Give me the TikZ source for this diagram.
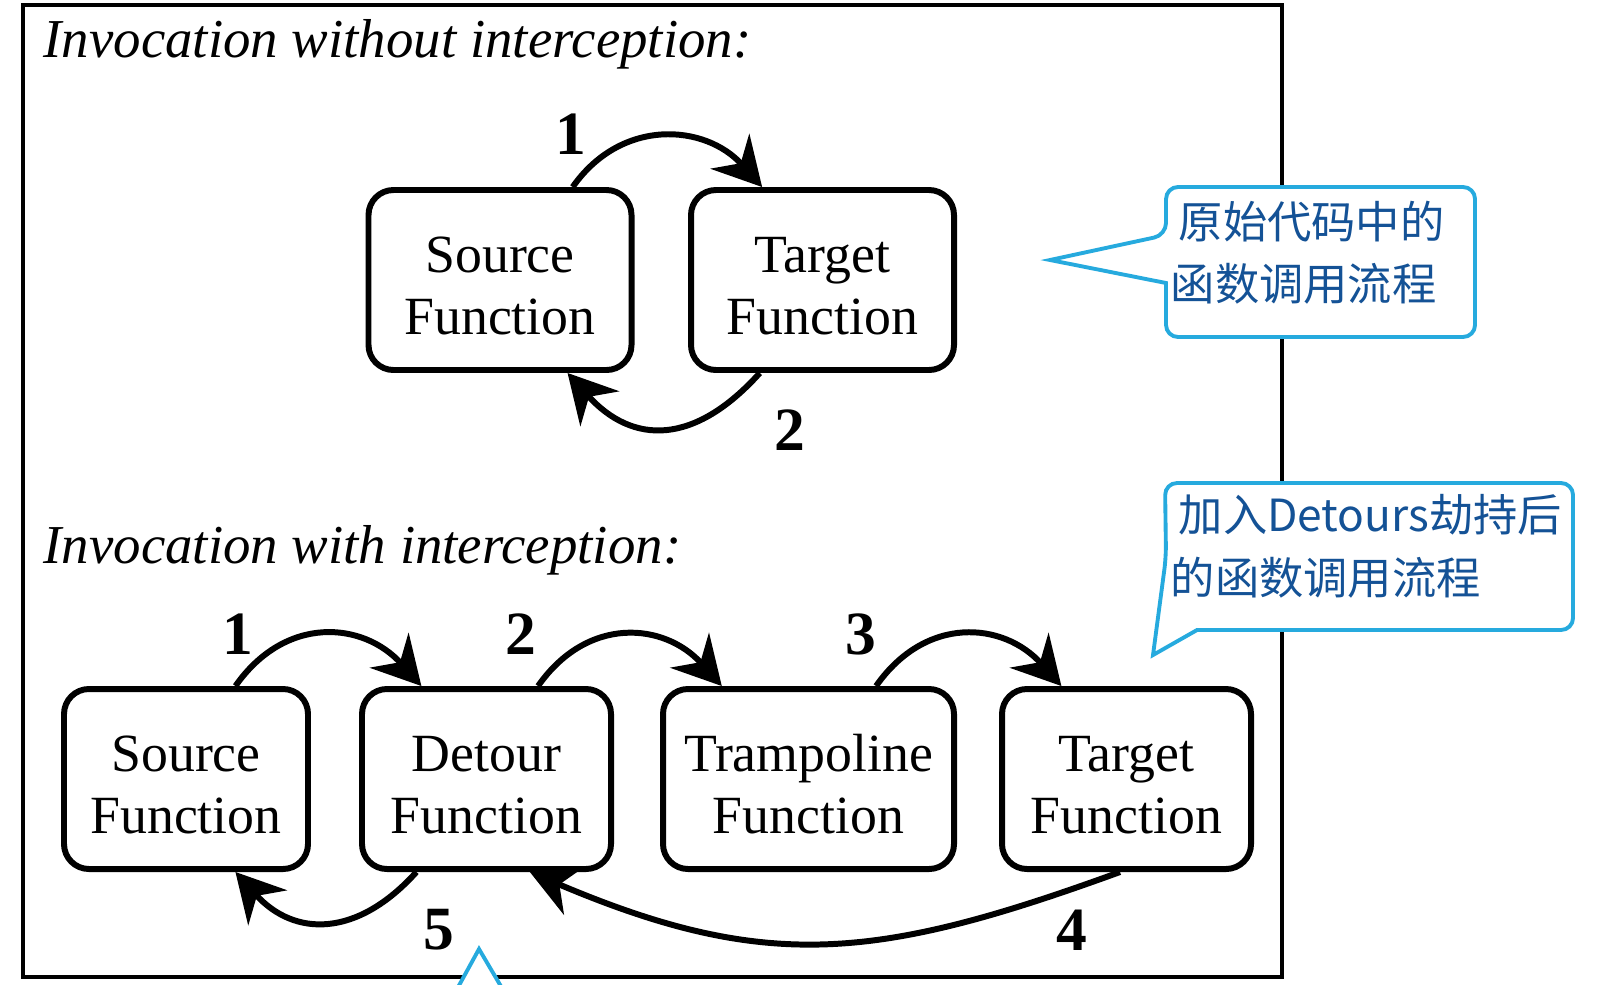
\documentclass[tikz,border=0pt]{standalone}
\usepackage{fontspec}
\setmainfont{Liberation Serif}
\newfontfamily\cjkfont{Noto Sans CJK SC}
\usepackage{xcolor}
\usetikzlibrary{arrows.meta,positioning}

\definecolor{calloutblue}{RGB}{38,170,222}
\definecolor{notetext}{RGB}{20,82,150}

% two-line box label, first line given
\newcommand{\boxlabel}[1]{\rule{0pt}{4.8mm}#1\\Function}

\begin{document}
\begin{tikzpicture}[
    x=1cm,
    y=1cm,
    >={Stealth[length=0.48cm,width=0.52cm,inset=0.16cm]},
    funcbox/.style={draw=black,line width=1.7pt,rounded corners=0.25cm,
        minimum height=1.80cm,inner sep=0pt,align=center,
        font=\fontsize{15.3}{17.6}\selectfont},
    call/.style={->,line width=1.7pt},
    stepnum/.style={inner sep=0pt,font=\fontsize{17.5}{20}\selectfont\bfseries},
    heading/.style={anchor=base west,inner sep=0pt,
        font=\fontsize{15.6}{18}\selectfont\itshape},
    callout/.style={draw=calloutblue,line width=1.1pt,fill=white},
    note/.style={anchor=base west,inner sep=0pt,text=notetext,
        font=\cjkfont\fontsize{12.6}{15}\selectfont}
]

\path[use as bounding box,fill=white]
    (0,0) rectangle (16.12,-9.84);

% ---------------------------------------------------------
% Frame and headings
% ---------------------------------------------------------

\draw[line width=1.1pt]
    (0.23,-0.05) rectangle (12.82,-9.77);

\node[heading] (head1) at (0.43,-0.57)
    {Invocation without interception:};

\node[heading] (head2) at (0.43,-5.63)
    {Invocation with interception:};

% ---------------------------------------------------------
% Without interception
% ---------------------------------------------------------

\node[funcbox,minimum width=2.63cm] (src) at (5.00,-2.80)
    {\boxlabel{Source}};

\node[funcbox,minimum width=2.63cm] (tgt) at (8.225,-2.80)
    {\boxlabel{Target}};

\draw[call]
    (src.52) to[out=55,in=132,looseness=1.15] (tgt.123);

\draw[call]
    (tgt.236) to[out=-132,in=-48,looseness=1.3] (src.-54);

\node[stepnum] (t1) at (5.71,-1.34) {1};
\node[stepnum] (t2) at (7.90,-4.30) {2};

% ---------------------------------------------------------
% With interception
% ---------------------------------------------------------

\node[funcbox,minimum width=2.44cm] (bsrc) at (1.86,-7.79)
    {\boxlabel{Source}};

\node[funcbox,minimum width=2.49cm] (det) at (4.865,-7.79)
    {\boxlabel{Detour}};

\node[funcbox,minimum width=2.91cm] (tramp) at (8.085,-7.79)
    {\boxlabel{Trampoline}};

\node[funcbox,minimum width=2.49cm] (btgt) at (11.265,-7.79)
    {\boxlabel{Target}};

\draw[call]
    (bsrc.62) to[out=55,in=132,looseness=1.2] (det.125);

\draw[call]
    (det.61) to[out=55,in=132,looseness=1.2] (tramp.133);

\draw[call]
    (tramp.54) to[out=55,in=132,looseness=1.2] (btgt.125);

\draw[call]
    (btgt.-94) to[out=-160,in=-23,looseness=1.12] (det.-65);

\draw[call]
    (det.-127) to[out=-132,in=-48,looseness=1.25] (bsrc.-62);

\node[stepnum] (b1) at (2.38,-6.34) {1};
\node[stepnum] (b2) at (5.21,-6.34) {2};
\node[stepnum] (b3) at (8.61,-6.34) {3};
\node[stepnum] (b4) at (10.72,-9.30) {4};
\node[stepnum] (b5) at (4.39,-9.30) {5};

% ---------------------------------------------------------
% Callouts
% ---------------------------------------------------------

\draw[callout]
    (11.66,-2.83) [rounded corners=0.12cm]
    -- (11.66,-3.37) -- (14.75,-3.37) -- (14.75,-1.87)
    -- (11.66,-1.87) -- (11.66,-2.35) [sharp corners]
    -- (10.50,-2.60) -- cycle;

\node[note] (note1a) at (11.78,-2.385) {原始代码中的};
\node[note] (note1b) at (11.70,-3.005) {函数调用流程};

\draw[callout]
    (11.97,-6.30) [rounded corners=0.12cm]
    -- (15.73,-6.30) -- (15.73,-4.83) -- (11.65,-4.83)
    -- (11.66,-5.57) [sharp corners]
    -- (11.53,-6.55) -- cycle;

\node[note] (note2a) at (11.78,-5.31) {加入Detours劫持后};
\node[note] (note2b) at (11.70,-5.94) {的函数调用流程};

% cut-off callout at the lower edge
\draw[callout]
    (4.51,-10.0) -- (4.79,-9.49) -- (5.09,-10.0);

\end{tikzpicture}
\end{document}
